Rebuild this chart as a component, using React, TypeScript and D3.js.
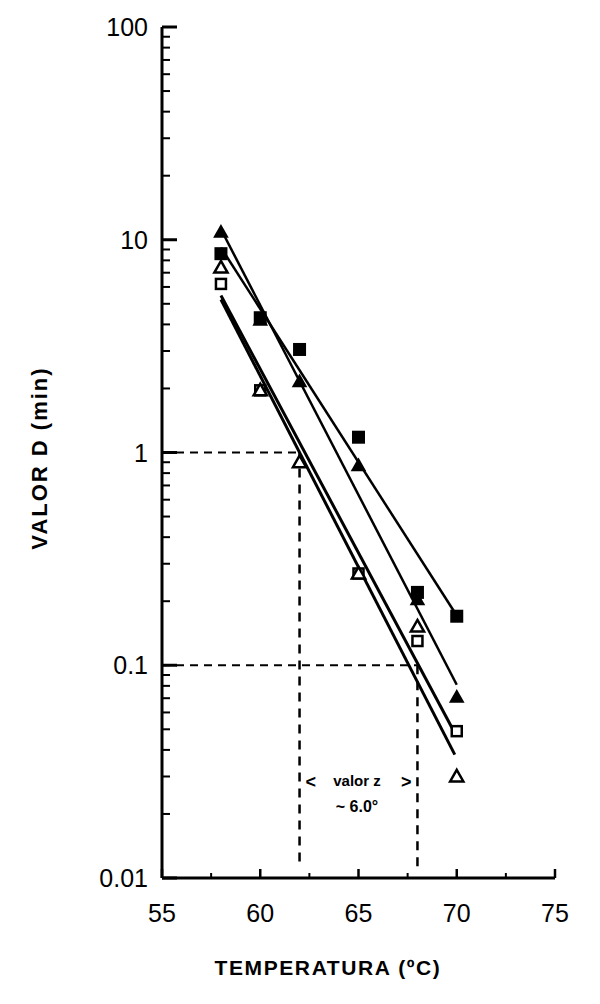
import React from "react";
import * as d3 from "d3";

const filledSquares: [number, number][] = [[58, 8.6], [60, 4.3], [62, 3.05], [65, 1.18], [68, 0.22], [70, 0.17]];
const filledTriangles: [number, number][] = [[58, 10.9], [60, 4.2], [62, 2.16], [65, 0.87], [68, 0.204], [70, 0.071]];
const openTriangles: [number, number][] = [[58, 7.4], [60, 1.96], [62, 0.9], [65, 0.27], [68, 0.152], [70, 0.03]];
const openSquares: [number, number][] = [[58, 6.2], [60, 1.96], [65, 0.27], [68, 0.13], [70, 0.049]];

const fitFilledSquares: [number, number][] = [[58, 9.19], [69.9, 0.177]];
const fitFilledTriangles: [number, number][] = [[58, 11.2], [70, 0.081]];
const fitOpenSquares: [number, number][] = [[58, 5.47], [69.9, 0.048]];
const fitOpenTriangles: [number, number][] = [[58, 5.24], [69.9, 0.038]];

const xTicks = [55, 60, 65, 70, 75];
const xMinorTicks = [57.5, 62.5, 67.5, 72.5];
const yTicks = [0.01, 0.1, 1, 10, 100];
const yTickLabels = ["0.01", "0.1", "1", "10", "100"];
const zGuides: [number, number][] = [[62, 1], [68, 0.1]];

export default function App() {
  const x = d3.scaleLinear().domain([55, 75]).range([162, 555]);
  const y = d3.scaleLog().domain([0.01, 100]).range([878, 27]);
  const line = d3.line<[number, number]>().x(d => x(d[0])).y(d => y(d[1]));

  const minorY: number[] = [];
  for (let e = -2; e < 2; e++) {
    for (let k = 2; k <= 9; k++) minorY.push(k * Math.pow(10, e));
  }
  const font = "'Liberation Sans', Arial, Helvetica, sans-serif";
  const tri = (cx: number, cy: number, s: number) =>
    `M${cx},${cy - s * 0.6}L${cx + s * 0.6},${cy + s * 0.45}L${cx - s * 0.6},${cy + s * 0.45}Z`;

  return (
    <svg width={600} height={1004} style={{ position: "absolute", left: 0, top: 0, background: "#fff" }}
      fontFamily={font}>
      <rect width={600} height={1004} fill="#fff" />
      {/* axes */}
      <line x1={x(55)} x2={x(55)} y1={y(100)} y2={y(0.01)} stroke="#000" strokeWidth={3} />
      <line x1={x(55)} x2={x(75)} y1={y(0.01)} y2={y(0.01)} stroke="#000" strokeWidth={3} />
      {yTicks.map(t => (
        <line key={"yt" + t} x1={x(55)} x2={x(55) + 15} y1={y(t)} y2={y(t)} stroke="#000" strokeWidth={3} />
      ))}
      {minorY.map(t => (
        <line key={"ym" + t} x1={x(55)} x2={x(55) + 8} y1={y(t)} y2={y(t)} stroke="#000" strokeWidth={2} />
      ))}
      {yTicks.map((t, i) => (
        <text key={"yl" + t} x={148} y={y(t)} dy="0.36em" textAnchor="end" fontSize={25} fill="#000">
          {yTickLabels[i]}
        </text>
      ))}
      {xTicks.map(t => (
        <line key={"xt" + t} x1={x(t)} x2={x(t)} y1={y(0.01)} y2={y(0.01) - 9} stroke="#000" strokeWidth={2.5} />
      ))}
      {xMinorTicks.map(t => (
        <line key={"xm" + t} x1={x(t)} x2={x(t)} y1={y(0.01)} y2={y(0.01) - 5} stroke="#000" strokeWidth={2} />
      ))}
      {xTicks.map(t => (
        <text key={"xl" + t} x={x(t)} y={922} textAnchor="middle" fontSize={25} fill="#000">
          {t}
        </text>
      ))}
      {/* guides */}
      {zGuides.map(([t, v]) => (
        <g key={"g" + t}>
          <line x1={x(55)} x2={x(t)} y1={y(v)} y2={y(v)} stroke="#000" strokeWidth={2} strokeDasharray="8,6" />
          <line x1={x(t)} x2={x(t)} y1={y(v)} y2={y(0.01) - 10} stroke="#000" strokeWidth={2.5} strokeDasharray="9,7" />
        </g>
      ))}
      {/* fit lines */}
      {[fitFilledSquares, fitFilledTriangles, fitOpenSquares, fitOpenTriangles].map((d, i) => (
        <path key={"f" + i} d={line(d) || ""} fill="none" stroke="#000" strokeWidth={i >= 2 ? 3 : 2.5} />
      ))}
      {/* points */}
      {filledSquares.map(([t, v]) => (
        <rect key={"fs" + t} x={x(t) - 6.5} y={y(v) - 6.5} width={13} height={13} fill="#000" />
      ))}
      {filledTriangles.map(([t, v]) => (
        <path key={"ft" + t} d={tri(x(t), y(v), 13)} fill="#000" />
      ))}
      {openSquares.map(([t, v]) => (
        <rect key={"os" + t} x={x(t) - 5} y={y(v) - 5} width={10} height={10} fill="#fff" stroke="#000" strokeWidth={2.5} />
      ))}
      {openTriangles.map(([t, v]) => (
        <path key={"ot" + t} d={tri(x(t), y(v), 11)} fill="#fff" stroke="#000" strokeWidth={2.5} />
      ))}
      {/* annotation */}
      <text x={x(62) + 6} y={788} fontSize={18} fontWeight="bold" fill="#000">&lt;</text>
      <text x={357} y={786} textAnchor="middle" fontSize={15} fontWeight="bold" fill="#000">valor z</text>
      <text x={x(68) - 6} y={788} textAnchor="end" fontSize={18} fontWeight="bold" fill="#000">&gt;</text>
      <text x={357} y={812} textAnchor="middle" fontSize={16} fontWeight="bold" fill="#000">~ 6.0°</text>
      {/* axis titles */}
      <text x={328} y={975} textAnchor="middle" fontSize={21} fontWeight="bold" letterSpacing={1.6} fill="#000">
        TEMPERATURA  (ºC)
      </text>
      <text transform="translate(47,458) rotate(-90)" textAnchor="middle" fontSize={22} fontWeight="bold" letterSpacing={2} fill="#000">
        VALOR  D (min)
      </text>
    </svg>
  );
}
